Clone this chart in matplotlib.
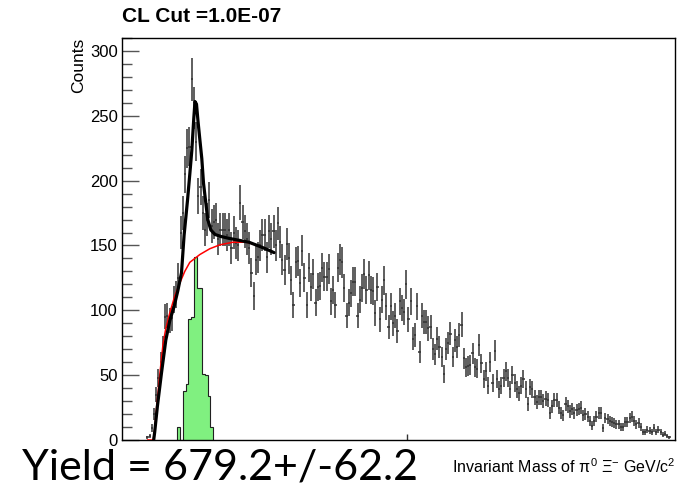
import numpy as np
import matplotlib
matplotlib.use("Agg")
import matplotlib.pyplot as plt

plt.rcParams['font.family'] = ['Liberation Sans', 'DejaVu Sans']
plt.rcParams['mathtext.fontset'] = 'custom'
plt.rcParams['mathtext.rm'] = 'Liberation Sans'
plt.rcParams['mathtext.it'] = 'Liberation Sans'

# histogram binning (invariant mass, GeV/c^2)
x_min, x_max, n_bins = 1.40, 2.40, 250
first_bin = 11

counts = [
    2, 3, 9, 20, 35, 48, 60, 72, 95, 96, 92, 94, 108, 112, 125, 160, 175, 205,
    225, 226, 278, 256, 230, 188, 195, 175, 162, 170, 185, 165, 168, 170, 155,
    162, 162,
    162, 158, 162, 148, 160, 152, 150, 183, 168, 161, 155, 148, 129, 111, 139,
    141, 150, 158, 158, 141, 161, 155, 161, 150, 167, 153, 139, 131, 151, 140,
    123, 104, 137, 138, 121, 146, 125, 104, 133,
    118, 128, 106, 118, 119, 133, 126, 126, 132, 107, 116, 104, 133, 139, 137,
    117, 96, 106, 113, 122, 122, 96, 108, 117, 128, 116, 127, 116, 115, 98,
    118, 93, 108, 123, 103, 87, 103, 90,
    96, 84, 107, 102, 99, 120, 93, 107, 78, 81, 103, 68, 96, 91, 91, 86, 87,
    70, 66, 78, 72, 64, 51, 70, 75, 82, 64, 77, 72, 81, 89, 63, 56, 57, 58,
    67, 56, 55, 73,
    59, 47, 53, 42, 60, 44, 69, 47, 39, 42, 48, 53, 48, 39, 50, 44, 39, 36,
    42, 47, 39, 28, 41, 39, 33, 29, 33, 33, 30, 32, 31, 21, 26, 31, 31, 25,
    21, 19,
    28, 26, 22, 24, 21, 23, 24, 25, 19, 20, 18, 15, 11, 15, 18, 21, 21, 9, 17,
    16, 15, 14, 13, 12, 12, 10, 10, 14, 14, 17, 18, 15, 12, 13, 10, 6, 6, 8,
    7, 6, 9, 6, 8, 6, 4, 5, 3, 2,
]

# signal histogram (green)
sig_min, sig_width = 1.50, 0.005
sig_counts = [10, 0, 38, 43, 93, 95, 141, 117, 117, 51, 50, 34, 10]

# total fit (black)
fit_x = [1.4573, 1.4591, 1.4640, 1.4712, 1.4792, 1.4864, 1.4942, 1.5009,
         1.5076, 1.5123, 1.5185, 1.5226, 1.5262, 1.5298, 1.5320, 1.5347,
         1.5374, 1.5407, 1.5443, 1.5474, 1.5515, 1.5551, 1.5606, 1.5682,
         1.5785, 1.5935, 1.6116, 1.6297, 1.6478, 1.6622, 1.6749]
fit_y = [0, 6, 26, 51, 77, 92, 103, 115, 129, 158, 185, 205, 223, 248, 261,
         259, 246, 232, 217, 198, 183, 170, 162, 158.5, 157, 155.5, 154,
         152.5, 149.5, 147, 144.5]

# background fit (red)
bkg_x = [1.4465, 1.4564, 1.4591, 1.4627, 1.4682, 1.4742, 1.4792, 1.4864,
         1.4954, 1.5045, 1.5135, 1.5226, 1.5407, 1.5588, 1.5769, 1.6004,
         1.6257, 1.6495, 1.6622, 1.6749]
bkg_y = [0, 0, 8, 26, 50, 74, 86, 98, 111, 121, 130, 137, 143, 147.5, 150.5,
         152.5, 152.5, 149.5, 147, 144.5]

edges = np.linspace(x_min, x_max, n_bins + 1)
w = edges[1] - edges[0]
centers = (edges[:-1] + edges[1:]) / 2
idx = np.arange(first_bin, first_bin + len(counts))
cnt = np.array(counts, dtype=float)

sig_edges = sig_min + sig_width * np.arange(len(sig_counts) + 1)

fig = plt.figure(figsize=(6.79, 4.92), dpi=100)
ax = fig.add_axes([122 / 679, 52 / 492, 553 / 679, 402 / 492])

ax.stairs(sig_counts, sig_edges, fill=True, color='#80f080', zorder=1)
ax.stairs(sig_counts, sig_edges, color='#202020', linewidth=0.8, zorder=1.5)

ax.errorbar(centers[idx], cnt, yerr=np.sqrt(cnt), xerr=w / 2, fmt='none',
            ecolor='#333333', elinewidth=1.1, zorder=2)

ax.plot(bkg_x, bkg_y, color='red', linewidth=1.1, zorder=3)
ax.plot(fit_x, fit_y, color='black', linewidth=2.3, zorder=4,
        solid_capstyle='round', solid_joinstyle='round')

ax.set_xlim(x_min, x_max)
ax.set_ylim(0, 310)
ax.set_yticks(np.arange(0, 301, 50))
ax.set_yticks(np.arange(0, 311, 10), minor=True)
ax.set_xticks([1.915])
ax.set_xticklabels([])
ax.tick_params(axis='y', which='major', direction='in', length=12,
               width=1, color='#555555', labelsize=12, pad=3)
ax.tick_params(axis='y', which='minor', direction='in', length=7,
               width=1, color='#555555')
ax.tick_params(axis='x', which='major', direction='in', length=4.5,
               width=1, color='#333333')
for s in ax.spines.values():
    s.set_linewidth(1)

fig.text(122 / 679, 1 - 16 / 492, 'CL Cut =1.0E-07', fontsize=15,
         fontweight='bold', ha='left', va='center')
fig.text(78.5 / 679, 1 - 38 / 492, 'Counts', rotation=90, fontsize=12.5,
         ha='center', va='top')
fig.text(675 / 679, 1 - 473 / 492,
         r'Invariant Mass of $\pi^{0}$ $\Xi^{-}$ GeV/c$^{2}$',
         fontsize=11.5, ha='right', va='baseline')
fig.text(22 / 679, 1 - 479 / 492, 'Yield = 679.2+/-62.2', fontsize=31,
         family='Lato', ha='left', va='baseline')

fig.savefig('out.png', dpi=100)
